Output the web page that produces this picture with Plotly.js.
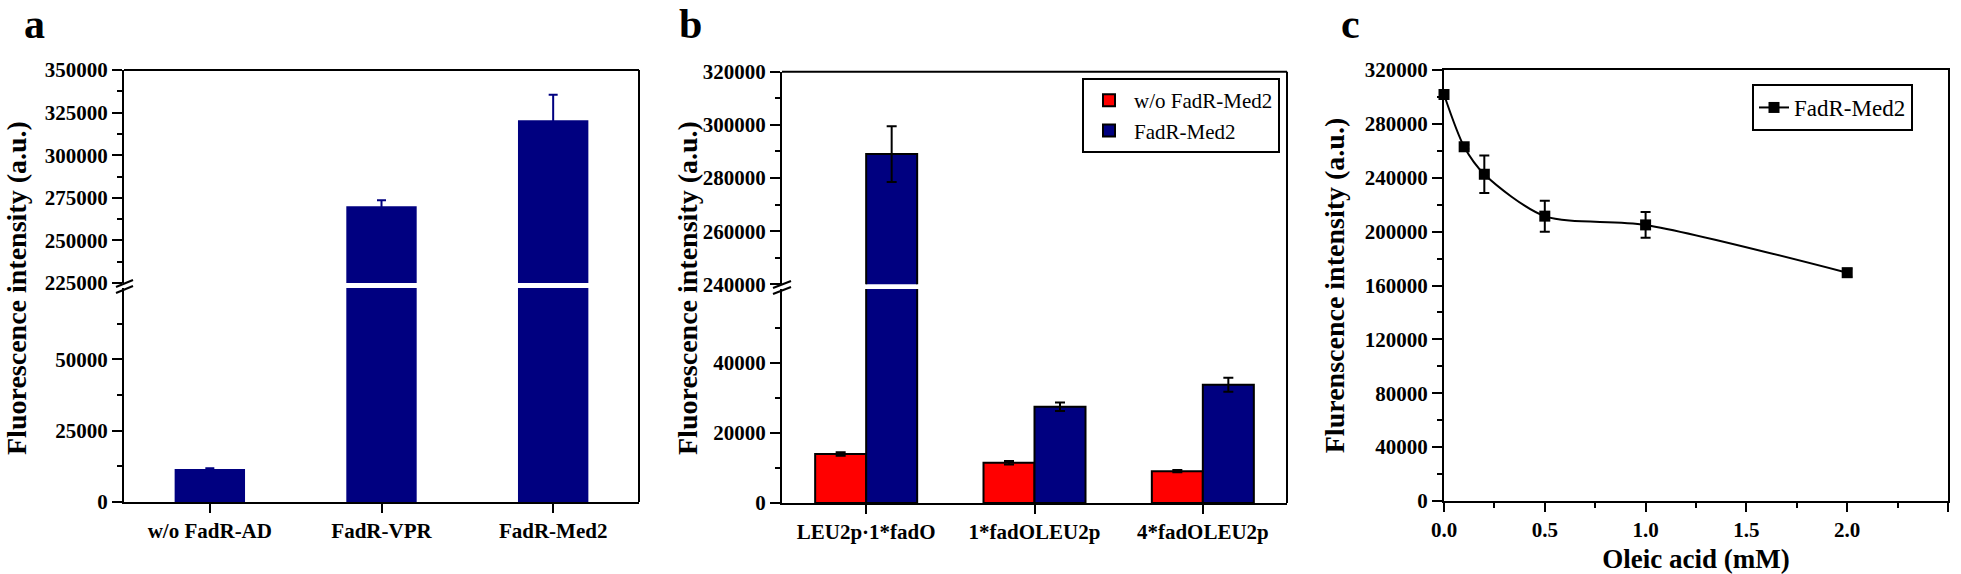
<!DOCTYPE html>
<html>
<head>
<meta charset="utf-8">
<script src="https://cdn.plot.ly/plotly-3.0.1.min.js"></script>
<style>
html,body{margin:0;padding:0;background:#fff;overflow:hidden;}
#chart{width:1961px;height:574px;}
</style>
</head>
<body>
<div id="chart"></div>
<script>
// ---------- data ----------
const catsA = ['w/o FadR-AD', 'FadR-VPR', 'FadR-Med2'];
const valsA = [11600, 270000, 320500];
const errA  = [200, 3500, 15000];

const catsB      = ['LEU2p·1*fadO', '1*fadOLEU2p', '4*fadOLEU2p'];
const valsBctrl  = [14000, 11500, 9100];
const errBctrl   = [500, 500, 300];
const valsBmed   = [289000, 27500, 33800];
const errBmed    = [10500, 1200, 2000];
const seriesB    = ['w/o FadR-Med2', 'FadR-Med2'];

const oleic  = [0, 0.1, 0.2, 0.5, 1.0, 2.0];
const fluorC = [301800, 263000, 242600, 211500, 205000, 169500];
const errC   = [1500, 1500, 14000, 11500, 9500, 3000];
const seriesC = 'FadR-Med2';

// ---------- helpers (layout in pixels, margins are zero) ----------
const W = 1961, H = 574;
const fx = p => p / W;
const fy = p => 1 - p / H;

const NAVY = '#000080', RED = '#ff0000';
const FAM = 'Liberation Serif';
const tickFont = {family: FAM, size: 21, color: '#000', weight: 700};

function yAx(domTop, domBot, range, tickvals, minorvals, anchor, extra) {
  return Object.assign({
    domain: [fy(domBot), fy(domTop)], anchor: anchor, range: range,
    tickmode: 'array', tickvals: tickvals, tickformat: 'd',
    showline: true, linecolor: '#000', linewidth: 2,
    ticks: 'outside', ticklen: 10, tickwidth: 2, tickcolor: '#000',
    minor: {tickmode: 'array', tickvals: minorvals, ticks: 'outside', ticklen: 5, tickwidth: 2, tickcolor: '#000', showgrid: false},
    showgrid: false, zeroline: false, tickfont: tickFont, fixedrange: true
  }, extra || {});
}
function xCat(left, right, anchor) {
  return {
    domain: [fx(left), fx(right)], anchor: anchor, type: 'category', range: [-0.5, 2.5],
    showline: true, linecolor: '#000', linewidth: 2,
    ticks: 'outside', ticklen: 9, tickwidth: 2, tickcolor: '#000',
    showgrid: false, zeroline: false, tickfont: tickFont, fixedrange: true
  };
}
function seq(a, b, s) { const r = []; for (let v = a; v <= b + 1e-9; v += s) r.push(v); return r; }

// ---------- traces ----------
const traces = [];
// panel a
['y', 'y2'].forEach(ya => {
  traces.push({
    type: 'bar', x: catsA, y: valsA, xaxis: 'x', yaxis: ya, width: 0.41,
    marker: {color: NAVY, line: {width: 0}},
    error_y: {type: 'data', array: errA, visible: true, color: NAVY, thickness: 2, width: 4.5},
    showlegend: false, hoverinfo: 'x+y'
  });
});
// panel b
[['y3', false], ['y4', true]].forEach(([ya, leg]) => {
  traces.push({
    type: 'bar', name: seriesB[0], x: catsB, y: valsBctrl, xaxis: 'x2', yaxis: ya,
    marker: {color: RED, line: {color: '#000', width: 2}},
    error_y: {type: 'data', array: errBctrl, visible: true, color: '#000', thickness: 2, width: 5},
    showlegend: leg, legend: 'legend'
  });
  traces.push({
    type: 'bar', name: seriesB[1], x: catsB, y: valsBmed, xaxis: 'x2', yaxis: ya,
    marker: {color: NAVY, line: {color: '#000', width: 2}},
    error_y: {type: 'data', array: errBmed, visible: true, color: '#000', thickness: 2, width: 5},
    showlegend: leg, legend: 'legend'
  });
});
// panel c
traces.push({
  type: 'scatter', mode: 'lines+markers', name: seriesC, x: oleic, y: fluorC,
  xaxis: 'x3', yaxis: 'y5', cliponaxis: false,
  line: {color: '#000', width: 2, shape: 'spline', smoothing: 0.8},
  marker: {symbol: 'square', size: 11, color: '#000'},
  error_y: {type: 'data', array: errC, visible: true, color: '#000', thickness: 2, width: 5},
  legend: 'legend2', showlegend: true
});

// ---------- shapes (frame + axis breaks) ----------
const ln = (x0, y0, x1, y1) => ({type: 'line', xref: 'paper', yref: 'paper',
  x0: fx(x0), y0: fy(y0), x1: fx(x1), y1: fy(y1), line: {color: '#000', width: 2}, layer: 'above'});
const shapes = [
  // panel a frame top/right
  ln(124, 70, 639, 70), ln(639, 70, 639, 502),
  // panel a break marks
  ln(116, 287, 133, 280), ln(116, 293, 133, 286),
  // panel b frame top/right
  ln(782, 71.7, 1287, 71.7), ln(1287, 71.7, 1287, 503),
  // panel b break marks
  ln(773, 288, 791, 281), ln(773, 294, 791, 287)
];

// ---------- annotations ----------
const titleFont = {family: FAM, size: 28, color: '#000', weight: 700};
const letterFont = {family: FAM, size: 42, color: '#000', weight: 700};
const annotations = [
  {text: 'a', x: fx(34), y: fy(24), xref: 'paper', yref: 'paper', showarrow: false, xanchor: 'center', yanchor: 'middle', font: letterFont},
  {text: 'b', x: fx(690), y: fy(24), xref: 'paper', yref: 'paper', showarrow: false, xanchor: 'center', yanchor: 'middle', font: letterFont},
  {text: 'c', x: fx(1350), y: fy(24), xref: 'paper', yref: 'paper', showarrow: false, xanchor: 'center', yanchor: 'middle', font: letterFont},
  {text: 'Fluorescence intensity (a.u.)', x: fx(16), y: fy(288), xref: 'paper', yref: 'paper', showarrow: false,
   textangle: -90, xanchor: 'center', yanchor: 'middle', font: titleFont},
  {text: 'Fluorescence intensity (a.u.)', x: fx(687), y: fy(288), xref: 'paper', yref: 'paper', showarrow: false,
   textangle: -90, xanchor: 'center', yanchor: 'middle', font: titleFont}
];

// ---------- layout ----------
const layout = {
  width: W, height: H,
  margin: {l: 0, r: 0, t: 0, b: 0, pad: 0},
  paper_bgcolor: '#fff', plot_bgcolor: '#fff',
  font: {family: FAM, color: '#000'},
  barmode: 'group', bargap: 0.394, bargroupgap: 0,
  // panel a
  xaxis: xCat(124, 639, 'y'),
  yaxis: yAx(288, 502, [0, 75000], [0, 25000, 50000], [12500, 37500, 62500], 'x'),
  yaxis2: yAx(70, 283, [225000, 350000], seq(225000, 350000, 25000), seq(237500, 337500, 25000), 'x'),
  // panel b
  xaxis2: xCat(782, 1287, 'y3'),
  yaxis3: yAx(289, 503, [0, 61140], [0, 20000, 40000], [10000, 30000, 50000], 'x2'),
  yaxis4: yAx(71.7, 284.3, [240000, 320000], seq(240000, 320000, 20000), seq(250000, 310000, 20000), 'x2'),
  // panel c
  xaxis3: {
    domain: [fx(1444), fx(1948)], anchor: 'y5', range: [0, 2.5],
    tickmode: 'linear', tick0: 0, dtick: 0.5, tickformat: '.1f',
    showline: true, mirror: true, linecolor: '#000', linewidth: 2,
    ticks: 'outside', ticklen: 9, tickwidth: 2, tickcolor: '#000',
    minor: {dtick: 0.25, tick0: 0, ticks: 'outside', ticklen: 5, tickwidth: 2, tickcolor: '#000', showgrid: false},
    showgrid: false, zeroline: false, tickfont: tickFont, fixedrange: true,
    title: {text: 'Oleic acid (mM)', font: {family: FAM, size: 27, color: '#000', weight: 700}, standoff: 10}
  },
  yaxis5: yAx(70, 501, [0, 320000], seq(0, 320000, 40000), seq(20000, 300000, 40000), 'x3', {
    mirror: true,
    title: {text: 'Flurenscence intensity (a.u.)', font: titleFont, standoff: 12}
  }),
  legend: {
    x: fx(1082), y: fy(78), xanchor: 'left', yanchor: 'top', xref: 'paper', yref: 'paper',
    bgcolor: '#fff', bordercolor: '#000', borderwidth: 2,
    font: {family: FAM, size: 21, color: '#000'}, traceorder: 'normal', tracegroupgap: 0, itemwidth: 40
  },
  legend2: {
    x: fx(1752), y: fy(84), xanchor: 'left', yanchor: 'top', xref: 'paper', yref: 'paper',
    bgcolor: '#fff', bordercolor: '#000', borderwidth: 2,
    font: {family: FAM, size: 23, color: '#000'}
  },
  shapes: shapes,
  annotations: annotations
};

Plotly.newPlot('chart', traces, layout, {displayModeBar: false, staticPlot: true});
</script>
</body>
</html>
